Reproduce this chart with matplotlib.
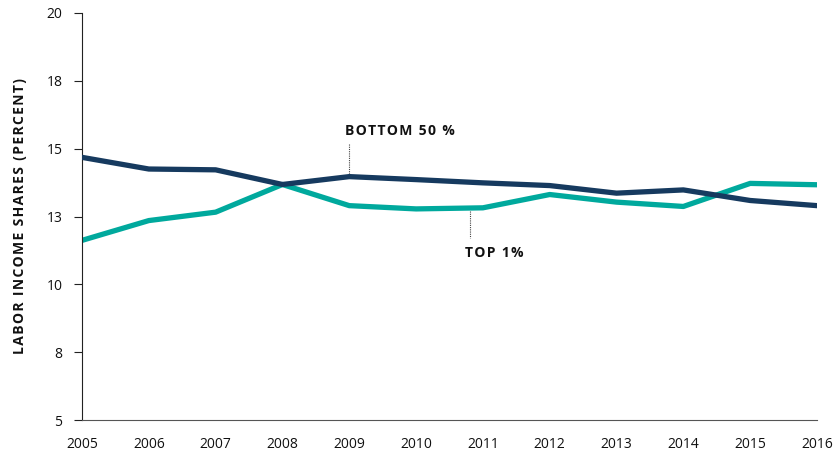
import matplotlib
matplotlib.use("Agg")
import matplotlib.pyplot as plt

years = list(range(2005, 2017))
bottom50 = [14.68, 14.25, 14.22, 13.68, 13.97, 13.86, 13.74, 13.64, 13.36, 13.48, 13.09, 12.90]
top1 = [11.62, 12.35, 12.66, 13.68, 12.90, 12.78, 12.82, 13.31, 13.03, 12.87, 13.72, 13.67]
ytick_vals = [5, 7.5, 10, 12.5, 15, 17.5, 20]
ytick_labels = ["5", "8", "10", "13", "15", "18", "20"]

plt.rcParams['font.family'] = ['Open Sans', 'DejaVu Sans']


def spaced(s):
    return "\u200a".join(s)


fig = plt.figure(figsize=(8.34, 4.53), dpi=100)
ax = fig.add_axes([82/834, 33/453, (817-82)/834, (420-13)/453])

navy = "#163a5f"
teal = "#00a99d"
ax.plot(years, bottom50, color=navy, lw=3.8, solid_capstyle="round", solid_joinstyle="round", zorder=3)
ax.plot(years, top1, color=teal, lw=3.8, solid_capstyle="round", solid_joinstyle="round", zorder=2)

ax.set_xlim(2005, 2016)
ax.set_ylim(5, 20)
ax.set_yticks(ytick_vals)
ax.set_yticklabels(ytick_labels)
ax.set_xticks(years)
ax.set_xticklabels([str(y) for y in years])
ax.tick_params(axis='y', length=6, width=0.8, color="#222222", labelsize=10, pad=8, labelcolor="#111111")
ax.tick_params(axis='x', length=0, labelsize=10, pad=12, labelcolor="#111111")
for s in ["top", "right"]:
    ax.spines[s].set_visible(False)
ax.spines["left"].set_linewidth(0.8)
ax.spines["bottom"].set_linewidth(0.8)
ax.spines["left"].set_color("#222222")
ax.spines["bottom"].set_color("#555555")

ax.set_ylabel(spaced("LABOR INCOME SHARES (PERCENT)"), fontsize=10, fontweight="bold",
              labelpad=14, color="#111111")

# Annotations
ax.plot([2009, 2009], [15.18, 14.02], color="#444444", lw=0.8, ls=(0, (1, 1)), zorder=1)
ax.text(2008.93, 15.66, spaced("BOTTOM 50 %"), fontsize=10, fontweight="bold", ha="left", va="center", color="#111111")
ax.plot([2010.81, 2010.81], [12.72, 11.69], color="#444444", lw=0.8, ls=(0, (1, 1)), zorder=1)
ax.text(2010.73, 11.16, spaced("TOP 1%"), fontsize=10, fontweight="bold", ha="left", va="center", color="#111111")

fig.savefig("out.png", dpi=100)
